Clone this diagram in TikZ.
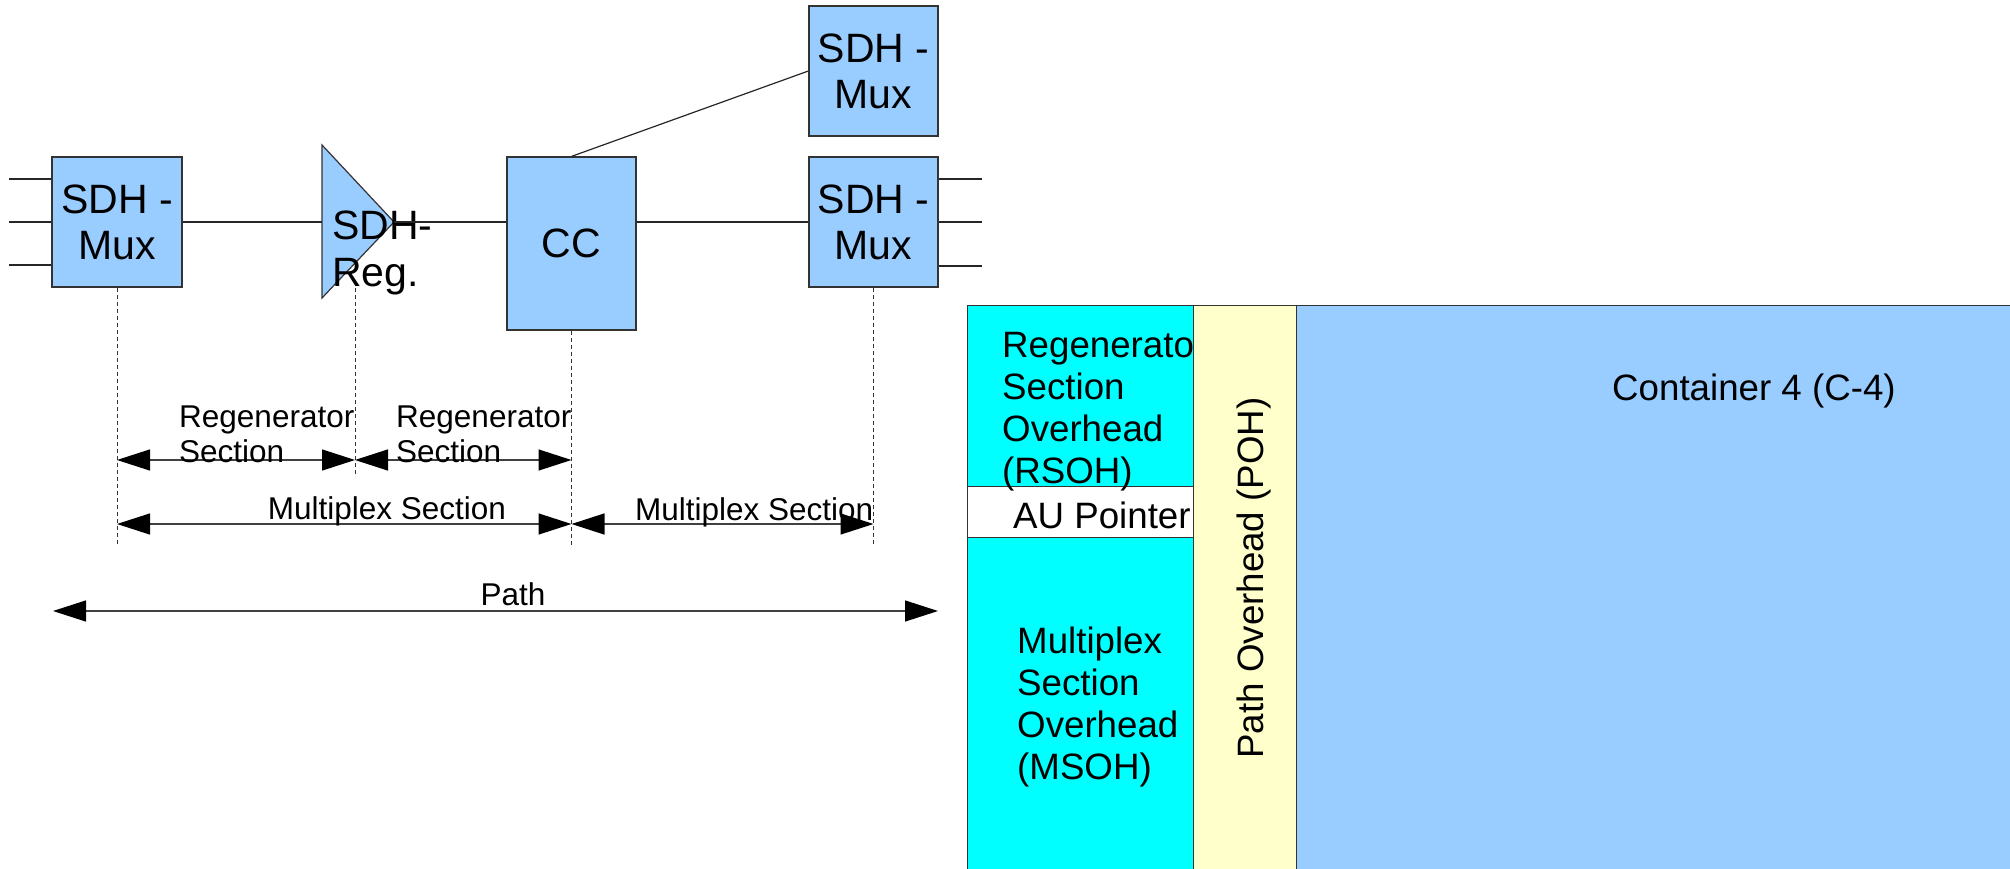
\documentclass[tikz,border=0pt]{standalone}
\usepackage{fontspec}
\setmainfont{Liberation Sans}
\usetikzlibrary{arrows.meta}
\definecolor{boxblue}{HTML}{99CCFF}
\definecolor{ohcyan}{HTML}{00FFFF}
\definecolor{pohyellow}{HTML}{FFFFCC}
\begin{document}
\begin{tikzpicture}[x=1pt,y=-1pt,
  netbox/.style={draw=black!80, fill=boxblue, line width=1.2pt, inner sep=0pt, align=center, font=\fontsize{41}{46}\selectfont},
  link/.style={line width=1.2pt, draw=black!85},
  guide/.style={line width=1pt, dash pattern=on 4pt off 3pt, draw=black!80},
  span/.style={line width=1.3pt, draw=black!75, {Triangle[length=33pt,width=21pt,black]}-{Triangle[length=33pt,width=21pt,black]}},
  lbl/.style={font=\fontsize{31.5}{35}\selectfont, inner sep=0pt, align=left},
  ohbox/.style={draw=black!80, line width=1.2pt, inner sep=0pt, anchor=north west},
  ohtext/.style={font=\fontsize{36.7}{42}\selectfont, inner sep=0pt, align=left}]
\useasboundingbox (0,0) rectangle (2010,869);
\clip (0,0) rectangle (2010,869);

% network elements
\node[netbox, minimum width=130pt, minimum height=130pt] (muxL) at (117,222) {SDH -\\Mux};
\node[netbox, minimum width=129pt, minimum height=173pt] (cc) at (571.5,243.5) {CC};
\node[netbox, minimum width=129pt, minimum height=130pt] (muxT) at (873.5,71) {SDH -\\Mux};
\node[netbox, minimum width=129pt, minimum height=130pt] (muxR) at (873.5,222) {SDH -\\Mux};

% regenerator triangle
\coordinate (regTop) at (322,145);
\coordinate (regBot) at (322,298);
\coordinate (regL) at (322,222);
\coordinate (regT) at (394,222);
\filldraw[fill=boxblue, draw=black!80, line width=1.2pt] (regTop) -- (regT) -- (regBot) -- cycle;
\node[anchor=north west, inner sep=0pt, align=left, font=\fontsize{41}{47}\selectfont] (regtxt) at (332,210.6) {SDH-\\Reg.};

% tributary lines
\coordinate (inL1) at (9,179);
\coordinate (inL2) at (9,222);
\coordinate (inL3) at (9,265);
\coordinate (outR1) at (982,179);
\coordinate (outR2) at (982,222);
\coordinate (outR3) at (982,266);
\draw[link] (inL1) -- (inL1 -| muxL.west);
\draw[link] (inL2) -- (inL2 -| muxL.west);
\draw[link] (inL3) -- (inL3 -| muxL.west);
\draw[link] (outR1 -| muxR.east) -- (outR1);
\draw[link] (outR2 -| muxR.east) -- (outR2);
\draw[link] (outR3 -| muxR.east) -- (outR3);

% main connectors
\draw[link] (muxL.east) -- (regL);
\draw[link] (regT) -- (regT -| cc.west);
\draw[link] (muxR.west -| cc.east) -- (muxR.west);
\draw[link] (cc.north) -- (muxT.west);

% dashed guides
\coordinate (g1b) at (117,545);
\coordinate (g2t) at (355,288);
\coordinate (g2b) at (355,477);
\coordinate (g3b) at (571.5,545);
\coordinate (g4b) at (873.5,546);
\draw[guide] (muxL.south) -- (g1b);
\draw[guide] (g2t) -- (g2b);
\draw[guide] (cc.south) -- (g3b);
\draw[guide] (muxR.south) -- (g4b);

% span arrows
\coordinate (a1) at (117,460);
\coordinate (a2) at (355,460);
\coordinate (a3) at (571.5,460);
\coordinate (m1) at (117,524);
\coordinate (m2) at (571.5,524);
\coordinate (m3) at (873.5,524);
\coordinate (p1) at (53,611);
\coordinate (p2) at (938,611);
\draw[span] (a1) -- (a2);
\draw[span] (a2) -- (a3);
\draw[span] (m1) -- (m2);
\draw[span] (m2) -- (m3);
\draw[span] (p1) -- (p2);

\node[lbl, anchor=north west] (rs1) at (179,405.4) {Regenerator\\Section};
\node[lbl, anchor=north west] (rs2) at (396,405.4) {Regenerator\\Section};
\node[lbl, anchor=base] (ms1) at (387,519) {Multiplex Section};
\node[lbl, anchor=base west] (ms2) at (635,520) {Multiplex Section};
\node[lbl, anchor=base] (pathlbl) at (513,605) {Path};

% STM-1 frame
\node[ohbox, fill=ohcyan, minimum width=226pt, minimum height=620pt] (soh) at (967,305) {};
\node[ohbox, fill=white, minimum width=226pt, minimum height=51pt] (au) at (967,486) {};
\node[ohtext, anchor=north west] (rsoh) at (1002,331.7) {Regenerator\\Section\\Overhead\\(RSOH)};
\node[ohtext, anchor=base west] (autxt) at (1013,528) {AU Pointer};
\node[ohtext, anchor=north west] (msoh) at (1017,626.7) {Multiplex\\Section\\Overhead\\(MSOH)};
\node[ohbox, fill=pohyellow, minimum width=103pt, minimum height=620pt] (poh) at (1193,305) {};
\node[ohtext, anchor=base, rotate=90] (pohtxt) at (1263,578) {Path Overhead (POH)};
\node[ohbox, fill=boxblue, minimum width=800pt, minimum height=620pt] (c4) at (1296,305) {};
\node[ohtext, anchor=base west] (c4txt) at (1612,400) {Container 4 (C-4)};
\end{tikzpicture}
\end{document}
